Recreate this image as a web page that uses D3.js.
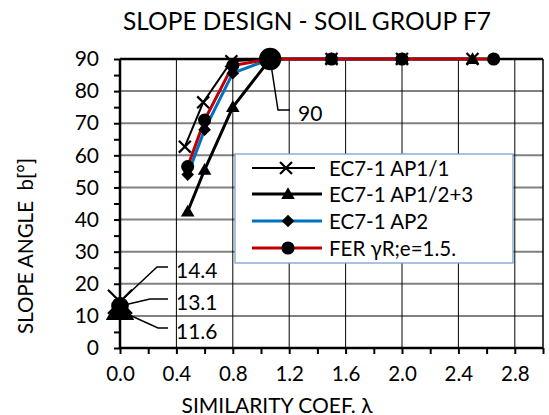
<!DOCTYPE html>
<html>
<head>
<meta charset="utf-8">
<script src="https://cdn.jsdelivr.net/npm/d3@7"></script>
<style>
  html, body { margin: 0; padding: 0; background: #fff; }
  svg text { font-family: Lato, "Open Sans", sans-serif; fill: #000; white-space: pre; }
</style>
</head>
<body>
<svg id="chart" width="549" height="415"></svg>
<script>
// Slope angle against similarity coefficient, soil group F7
const title = "SLOPE DESIGN - SOIL GROUP F7";
const xTitle = "SIMILARITY COEF. λ";
const yTitle = "SLOPE ANGLE  b[°]";

const seriesNames = ["EC7-1 AP1/1", "EC7-1 AP1/2+3", "EC7-1 AP2", "FER γR;e=1.5."];

const lambdaAP11 = [0.46, 0.59, 0.79, 1.065, 1.5, 2.0, 2.5];
const angleAP11  = [62.7, 76.5, 89.3, 90, 90, 90, 90];

const lambdaAP123 = [0.48, 0.60, 0.80, 1.065, 1.5, 2.0, 2.5];
const angleAP123  = [42.5, 55.5, 75.0, 90, 90, 90, 90];

const lambdaAP2 = [0.48, 0.60, 0.80, 1.065, 1.5, 2.0, 2.65];
const angleAP2  = [54.0, 68.0, 85.6, 90, 90, 90, 90];

const lambdaFER = [0.48, 0.60, 0.80, 1.065, 1.5, 2.0, 2.65];
const angleFER  = [56.5, 71.0, 88.0, 90, 90, 90, 90];

// Labelled reference points
const refLambda = [0, 0, 0, 1.065];
const refAngle  = [14.4, 13.1, 11.6, 90];
const refLabels = ["14.4", "13.1", "11.6", "90"];

const xTicks = [0, 0.4, 0.8, 1.2, 1.6, 2.0, 2.4, 2.8];
const yTicks = [0, 10, 20, 30, 40, 50, 60, 70, 80, 90];

const svg = d3.select("#chart");
const x = d3.scaleLinear().domain([0, 3]).range([120, 543]);
const y = d3.scaleLinear().domain([0, 90]).range([348, 59]);

// grid
svg.append("g").selectAll("line").data(yTicks.filter(v => v > 0 && v < 90)).join("line")
  .attr("x1", x(0)).attr("x2", x(3)).attr("y1", d => y(d)).attr("y2", d => y(d))
  .attr("stroke", "#808080").attr("stroke-width", 2);
svg.append("g").selectAll("line").data(xTicks.filter(v => v > 0)).join("line")
  .attr("x1", d => x(d)).attr("x2", d => x(d)).attr("y1", y(0)).attr("y2", y(90))
  .attr("stroke", "#000").attr("stroke-width", 1);
// plot frame (top + right)
svg.append("line").attr("x1", x(0)).attr("x2", x(3)).attr("y1", y(90)).attr("y2", y(90))
  .attr("stroke", "#000").attr("stroke-width", 2.5);
svg.append("line").attr("x1", x(3)).attr("x2", x(3)).attr("y1", y(0)).attr("y2", y(90))
  .attr("stroke", "#000").attr("stroke-width", 1.5);

// axes
const xAxis = d3.axisBottom(x).tickValues(d3.range(0, 3.0001, 0.2)).tickSize(6)
  .tickFormat(d => xTicks.some(t => Math.abs(t - d) < 1e-6) ? d3.format(".1f")(d) : "");
const gx = svg.append("g").attr("transform", `translate(0,${y(0)})`).call(xAxis);
gx.select(".domain").attr("stroke", "#000").attr("stroke-width", 2.5);
gx.selectAll(".tick line").attr("stroke", "#000").attr("stroke-width", 2);
gx.selectAll(".tick text").attr("font-size", 20.5).attr("dy", "1.15em")
  .attr("font-family", "Lato, sans-serif");

const yAxis = d3.axisLeft(y).tickValues(d3.range(0, 90.001, 5)).tickSize(6)
  .tickFormat(d => d % 10 === 0 ? d : "");
const gy = svg.append("g").attr("transform", `translate(${x(0)},0)`).call(yAxis);
gy.select(".domain").attr("stroke", "#000").attr("stroke-width", 2.5);
gy.selectAll(".tick line").attr("stroke", "#000").attr("stroke-width", 2);
gy.selectAll(".tick text").attr("font-size", 21).attr("x", -21)
  .attr("font-family", "Lato, sans-serif");
gx.selectAll(".domain").attr("d", `M${x(0)},0H${x(3)}`);
gy.selectAll(".domain").attr("d", `M0,${y(0)}V${y(90)}`);

// titles
svg.append("text").attr("x", 307).attr("y", 20).attr("text-anchor", "middle")
  .attr("dominant-baseline", "central").attr("font-size", 24.5).text(title);
svg.append("text").attr("transform", "translate(25,246) rotate(-90)").attr("text-anchor", "middle")
  .attr("dominant-baseline", "central").attr("font-size", 20.5).text(yTitle);
svg.append("text").attr("x", 277).attr("y", 404).attr("text-anchor", "middle")
  .attr("dominant-baseline", "central").attr("font-size", 21).text(xTitle);

// series
const series = [
  { name: seriesNames[0], xs: lambdaAP11, ys: angleAP11, color: "#000", width: 2, mark: "x" },
  { name: seriesNames[1], xs: lambdaAP123, ys: angleAP123, color: "#000", width: 3, mark: "tri" },
  { name: seriesNames[2], xs: lambdaAP2, ys: angleAP2, color: "#0070C0", width: 3, mark: "dia" },
  { name: seriesNames[3], xs: lambdaFER, ys: angleFER, color: "#C00000", width: 3, mark: "cir" }
];

function markerPath(kind, scale) {
  const k = scale || 1;
  if (kind === "x") return d3.symbol(d3.symbolTimes, 95 * k * k)();
  if (kind === "tri") return d3.symbol(d3.symbolTriangle, 80 * k * k)();
  if (kind === "dia") return d3.symbol(d3.symbolSquare, 80 * k * k)();
  return d3.symbol(d3.symbolCircle, 135 * k * k)();
}
function drawMarker(g, kind, cx, cy, scale) {
  const p = g.append("path").attr("d", markerPath(kind, scale));
  if (kind === "x") {
    p.attr("fill", "none").attr("stroke", "#000").attr("stroke-width", 2.2)
      .attr("transform", `translate(${cx},${cy})`);
  } else if (kind === "dia") {
    p.attr("fill", "#000").attr("transform", `translate(${cx},${cy}) rotate(45)`);
  } else if (kind === "tri") {
    p.attr("fill", "#000").attr("transform", `translate(${cx},${cy + 1})`);
  } else {
    p.attr("fill", "#000").attr("transform", `translate(${cx},${cy})`);
  }
  return p;
}

const line = d3.line().x(d => x(d[0])).y(d => y(d[1]));
const gLines = svg.append("g");
series.forEach(s => {
  gLines.append("path").datum(d3.zip(s.xs, s.ys)).attr("d", line)
    .attr("fill", "none").attr("stroke", s.color).attr("stroke-width", s.width)
    .attr("stroke-linejoin", "round");
});
const gMarks = svg.append("g");
[1, 2, 3, 0].forEach(i => {
  const s = series[i];
  s.xs.forEach((lx, j) => drawMarker(gMarks, s.mark, x(lx), y(s.ys[j]), 1));
});

// labelled reference points with leader lines
const refMarks = ["x", "cir", "tri", "cir"];
const refScale = [2.0, 1.35, 2.1, 1.7];
const leaderBend = [[157, 267], [150, 299], [158, 328], [278, 110]];
const leaderEnd = [168, 168, 168, 290];
const gRef = svg.append("g");
refLambda.forEach((lx, i) => {
  const px = x(lx), py = y(refAngle[i]);
  const b = leaderBend[i];
  gRef.append("path").attr("d", `M${px},${py}L${b[0]},${b[1]}H${leaderEnd[i]}`)
    .attr("fill", "none").attr("stroke", "#000").attr("stroke-width", 1.5);
});
[1, 2, 0, 3].forEach(i => {
  drawMarker(gRef, refMarks[i], x(refLambda[i]), y(refAngle[i]), refScale[i]);
});
refLabels.forEach((t, i) => {
  const b = leaderBend[i];
  gRef.append("text").attr("x", leaderEnd[i] + 8).attr("y", b[1] + 2)
    .attr("dominant-baseline", "central").attr("font-size", 21).text(t);
});

// legend
const lg = svg.append("g");
lg.append("rect").attr("x", 235).attr("y", 154).attr("width", 278).attr("height", 109)
  .attr("fill", "#fff").attr("stroke", "#7da2d0").attr("stroke-width", 1.3);
const rowY = [168, 194, 221, 248];
series.forEach((s, i) => {
  const ry = rowY[i];
  lg.append("line").attr("x1", 252).attr("x2", i === 0 ? 315 : 322).attr("y1", ry).attr("y2", ry)
    .attr("stroke", s.color).attr("stroke-width", s.width);
  drawMarker(lg, s.mark, i === 0 ? 286 : 288, ry, 1);
  lg.append("text").attr("x", 329).attr("y", ry).attr("dominant-baseline", "central")
    .attr("font-size", 20.5).text(s.name);
});
</script>
</body>
</html>
